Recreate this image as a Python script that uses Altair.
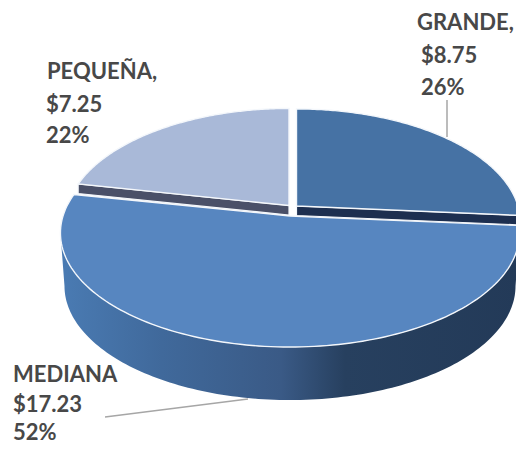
import math
import altair as alt
import pandas as pd

NAMES = ["GRANDE", "MEDIANA", "PEQUEÑA"]
VALUES = [8.75, 17.23, 7.25]
PERCENTS = ["26%", "52%", "22%"]

TOP_COLORS = {"GRANDE": "#4672a4", "MEDIANA": "#5786c0", "PEQUEÑA": "#a9b9d8"}
CUT_COLORS = {"GRANDE": "#1d2f50", "PEQUEÑA": "#4a5068"}
TEXT_COLOR = "#484848"
FONT = "Lato"

# Pie layout in page pixels: perspective-tilted disc
K = 0.149
BY = 111.5
CENTER = {"GRANDE": (296.5, 206.0), "MEDIANA": (290.0, 216.0), "PEQUEÑA": (289.0, 205.5)}
AX = {"GRANDE": 221.5, "MEDIANA": 227.0, "PEQUEÑA": 221.5}
DEPTH = 53.0
CUT_DEPTH = 9.5

LABEL_X = {"GRANDE": [417, 421, 421], "MEDIANA": [13, 13, 13], "PEQUEÑA": [47, 46, 46]}
LABEL_Y = {"GRANDE": [30, 63, 95], "MEDIANA": [382, 411.5, 440], "PEQUEÑA": [79, 112, 143]}

PLOT_W = 508
PLOT_H = 436


def rim(phi, name, ax=None, drop=0.0):
    x0, y0 = CENTER[name]
    a = AX[name] if ax is None else ax
    X, Y = math.sin(phi), math.cos(phi)
    d = 1 + K * Y
    return x0 + a * X / d, y0 - BY * Y / d + drop


total = sum(VALUES)
angles = {}
cum = 0.0
for n, v in zip(NAMES, VALUES):
    angles[n] = (cum / total * 2 * math.pi, (cum + v) / total * 2 * math.pi)
    cum += v


def frame(points):
    return pd.DataFrame([{"x": p[0], "y": p[1], "i": i} for i, p in enumerate(points)])


def arc(name, a0, a1, n=140, **kw):
    return [rim(a0 + (a1 - a0) * i / n, name, **kw) for i in range(n + 1)]


xs = alt.X("x:Q", scale=alt.Scale(domain=[8, 8 + PLOT_W]), axis=None)
ys = alt.Y("y:Q", scale=alt.Scale(domain=[8 + PLOT_H, 8]), axis=None)


def poly(points, **mark):
    return alt.Chart(frame(points)).mark_line(**mark).encode(x=xs, y=ys, order=alt.Order("i:Q"))


def wedge(name):
    a0, a1 = angles[name]
    v = CENTER[name]
    pts = [v] + arc(name, a0, a1) + [v]
    return poly(pts, fill=TOP_COLORS[name], stroke="#f4f7fb", strokeWidth=1.4)


# outer wall of the whole disc, shaded left to right
wall_from = math.acos(-K)
wall_to = 2 * math.pi - math.acos(-K)
upper = arc("MEDIANA", wall_from, wall_to)
lower = arc("MEDIANA", wall_to, wall_from, ax=AX["MEDIANA"] - 4, drop=DEPTH)
wall_fill = alt.Gradient(
    gradient="linear", x1=0, x2=1, y1=0, y2=0,
    stops=[
        alt.GradientStop(color="#4a7bb3", offset=0.0),
        alt.GradientStop(color="#40699b", offset=0.22),
        alt.GradientStop(color="#3a5a86", offset=0.48),
        alt.GradientStop(color="#27405f", offset=0.62),
        alt.GradientStop(color="#233a58", offset=1.0),
    ],
)
wall = poly(upper + lower + [upper[0]], fill=wall_fill, strokeWidth=0, stroke="#ffffff", strokeOpacity=0)


def cut_wall(name, angle):
    v = CENTER[name]
    tip = rim(angle, name)
    pts = [v, tip, (tip[0], tip[1] + CUT_DEPTH), (v[0], v[1] + CUT_DEPTH), v]
    return poly(pts, fill=CUT_COLORS[name], stroke="#f4f7fb", strokeWidth=1.2)


leaders = [
    pd.DataFrame({"x": [447, 447], "y": [100, 137], "i": [0, 1]}),
    pd.DataFrame({"x": [105, 248], "y": [417, 399], "i": [0, 1]}),
]
leader_layers = [
    alt.Chart(d).mark_line(stroke="#a6a6a6", strokeWidth=1.5).encode(x=xs, y=ys, order=alt.Order("i:Q"))
    for d in leaders
]

rows = []
for n, v, p in zip(NAMES, VALUES, PERCENTS):
    head = n + ("," if n != "MEDIANA" else "")
    for j, t in enumerate([head, f"${v:.2f}", p]):
        rows.append({"x": LABEL_X[n][j], "y": LABEL_Y[n][j], "t": t})
labels = alt.Chart(pd.DataFrame(rows)).mark_text(
    align="left", baseline="alphabetic", font=FONT, fontSize=22, fontWeight="bold", color=TEXT_COLOR
).encode(x=xs, y=ys, text="t:N")

chart = alt.layer(
    wall,
    wedge("MEDIANA"),
    cut_wall("PEQUEÑA", angles["PEQUEÑA"][0]),
    cut_wall("GRANDE", angles["GRANDE"][1]),
    wedge("PEQUEÑA"),
    wedge("GRANDE"),
    *leader_layers,
    labels,
).properties(
    width=PLOT_W, height=PLOT_H, padding=0, background="#ffffff",
    autosize=alt.AutoSizeParams(type="none"),
).configure_view(stroke=None)

chart.save("out.html", embed_options={"renderer": "svg", "actions": False})
